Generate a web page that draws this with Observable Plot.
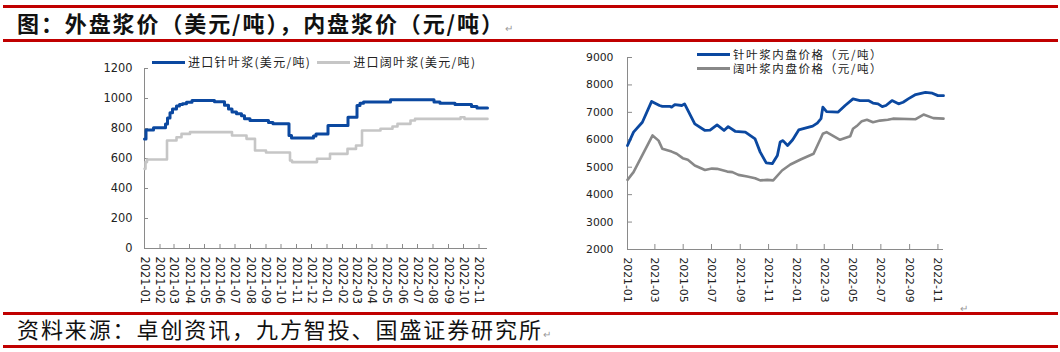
<!DOCTYPE html>
<html><head><meta charset="utf-8">
<script src="https://cdn.jsdelivr.net/npm/d3@7"></script>
<script src="https://cdn.jsdelivr.net/npm/@observablehq/plot@0.6"></script>
<style>
body{margin:0;width:1060px;height:352px;position:relative;background:#fff;overflow:hidden;font-family:"Noto Sans CJK SC",sans-serif}
.rule{position:absolute;left:3px;width:1055px;height:3px;background:#c00000}
.abs{position:absolute;white-space:nowrap}
#title{left:17px;top:7px;line-height:30px;font-size:22px;font-weight:700;letter-spacing:1.9px;color:#111}
#src{left:17px;top:313px;line-height:30px;font-size:22px;letter-spacing:1.9px;color:#111}
.pm{font-size:10px;color:#999;font-weight:400;letter-spacing:0}
.leg{font-size:12px;line-height:12px;height:12px;color:#222;display:flex;align-items:center}
.sw{display:inline-block;width:33px;height:3px;margin-right:3px}
#left,#right{position:absolute;top:46px}
#left{left:0}
#right{left:530px}
</style></head><body>
<div class="rule" style="top:5px"></div>
<div class="rule" style="top:39px"></div>
<div id="title" class="abs">图：外盘浆价（美元/吨），内盘浆价（元/吨）<span class="pm">↵</span></div>
<div id="left"></div>
<div id="right"></div>
<div class="abs leg" style="left:152px;top:56px;letter-spacing:1.3px"><span class="sw" style="background:#0b48a0"></span><span id="l1"></span><span class="sw" style="background:#c6c6c6;margin-left:6px"></span><span id="l2"></span></div>
<div class="abs leg" style="left:697px;top:48px;letter-spacing:1.6px;font-size:11.5px"><span class="sw" style="background:#0b48a0"></span><span id="r1"></span></div>
<div class="abs leg" style="left:697px;top:62px;letter-spacing:1.6px;font-size:11.5px"><span class="sw" style="background:#888888"></span><span id="r2"></span></div>
<div class="abs pm" style="left:960px;top:300px">↵</div>
<div class="rule" style="top:312px"></div>
<div class="rule" style="top:345px"></div>
<div id="src" class="abs">资料来源：卓创资讯，九方智投、国盛证券研究所<span class="pm">↵</span></div>
<script>
// ---------- data ----------
const seriesNames = ["进口针叶浆(美元/吨)", "进口阔叶浆(美元/吨)", "针叶浆内盘价格（元/吨）", "阔叶浆内盘价格（元/吨）"];

// 外盘 进口针叶浆 (USD/t), step changes
const swImpDates = ["2021-01-01","2021-01-04","2021-01-19","2021-02-12","2021-02-16","2021-02-21","2021-02-26","2021-03-06","2021-03-12","2021-03-18","2021-03-26","2021-04-06","2021-05-21","2021-06-10","2021-06-18","2021-06-25","2021-07-04","2021-07-14","2021-07-20","2021-07-31","2021-09-06","2021-09-15","2021-10-17","2021-10-22","2021-12-05","2021-12-10","2022-01-03","2022-02-12","2022-03-02","2022-03-08","2022-03-15","2022-05-08","2022-08-03","2022-08-15","2022-09-14","2022-10-17","2022-10-28","2022-11-18"];
const swImpValues = [730,790,805,830,870,905,930,950,960,965,975,987,978,955,930,910,898,885,865,853,840,831,753,736,750,764,820,875,953,969,976,991,976,969,960,947,936,936];

// 外盘 进口阔叶浆 (USD/t)
const hwImpDates = ["2021-01-01","2021-01-03","2021-01-06","2021-02-15","2021-03-06","2021-03-16","2021-04-02","2021-06-25","2021-07-24","2021-08-10","2021-09-01","2021-10-19","2021-10-23","2021-12-12","2022-01-07","2022-02-11","2022-02-28","2022-03-12","2022-04-18","2022-05-12","2022-05-22","2022-06-17","2022-06-26","2022-09-25","2022-10-03","2022-11-18"];
const hwImpValues = [531,576,593,720,742,764,776,753,731,653,640,587,576,598,631,664,687,787,798,813,831,853,864,875,864,864];

// 内盘 针叶浆 (CNY/t)
const swDomDates = ["2021-01-01","2021-01-14","2021-02-02","2021-02-22","2021-03-11","2021-03-17","2021-04-02","2021-04-06","2021-04-13","2021-04-28","2021-05-04","2021-05-26","2021-06-17","2021-06-28","2021-07-13","2021-07-28","2021-08-06","2021-08-21","2021-09-12","2021-10-03","2021-10-14","2021-10-27","2021-11-09","2021-11-20","2021-11-26","2021-12-02","2021-12-12","2021-12-23","2022-01-05","2022-02-04","2022-02-14","2022-02-22","2022-02-26","2022-03-06","2022-03-31","2022-04-15","2022-05-02","2022-05-17","2022-06-04","2022-06-14","2022-06-25","2022-07-04","2022-07-12","2022-07-25","2022-08-08","2022-08-18","2022-08-29","2022-09-14","2022-10-05","2022-10-20","2022-11-01","2022-11-13"];
const swDomValues = [5790,6280,6640,7400,7250,7220,7220,7190,7280,7250,7310,6580,6340,6350,6540,6340,6480,6310,6280,6030,5550,5160,5130,5430,5920,5970,5790,6000,6360,6500,6610,6770,7190,7030,7010,7250,7490,7430,7430,7340,7310,7210,7250,7430,7310,7370,7490,7650,7730,7700,7610,7610];

// 内盘 阔叶浆 (CNY/t)
const hwDomDates = ["2021-01-01","2021-01-14","2021-02-24","2021-03-09","2021-03-17","2021-04-06","2021-04-17","2021-04-30","2021-05-11","2021-05-26","2021-06-17","2021-07-02","2021-07-13","2021-08-04","2021-08-15","2021-08-28","2021-09-16","2021-10-03","2021-10-14","2021-10-29","2021-11-11","2021-11-30","2021-12-18","2022-01-09","2022-02-06","2022-02-26","2022-03-06","2022-04-04","2022-04-26","2022-05-02","2022-05-10","2022-05-21","2022-06-01","2022-06-14","2022-06-29","2022-07-16","2022-07-27","2022-09-14","2022-10-01","2022-10-22","2022-11-13"];
const hwDomValues = [4540,4820,6160,5970,5670,5570,5490,5330,5270,5060,4900,4950,4940,4840,4820,4720,4660,4600,4520,4540,4520,4880,5100,5280,5490,6220,6280,6000,6130,6400,6500,6680,6730,6640,6700,6730,6770,6750,6920,6790,6770];

// tick labels
const leftXTicks = ["2021-01","2021-02","2021-03","2021-04","2021-05","2021-06","2021-07","2021-08","2021-09","2021-10","2021-11","2021-12","2022-01","2022-02","2022-03","2022-04","2022-05","2022-06","2022-07","2022-08","2022-09","2022-10","2022-11"];
const rightXTicks = ["2021-01","2021-03","2021-05","2021-07","2021-09","2021-11","2022-01","2022-03","2022-05","2022-07","2022-09","2022-11"];
const leftYTicks = [0,200,400,600,800,1000,1200];
const rightYTicks = [2000,3000,4000,5000,6000,7000,8000,9000];

// ---------- build ----------
const pd = s => new Date(s + (s.length === 7 ? "-01" : "") + "T00:00:00Z");
const rows = (ds, vs) => ds.map((d, i) => ({date: pd(d), value: vs[i]}));
const swImp = rows(swImpDates, swImpValues), hwImp = rows(hwImpDates, hwImpValues);
const swDom = rows(swDomDates, swDomValues), hwDom = rows(hwDomDates, hwDomValues);

document.getElementById("l1").textContent = seriesNames[0];
document.getElementById("l2").textContent = seriesNames[1];
document.getElementById("r1").textContent = seriesNames[2];
document.getElementById("r2").textContent = seriesNames[3];

const axisColor = "#8a8a8a";
const plain = d => String(d);

const left = Plot.plot({
  width: 530, height: 266,
  marginLeft: 144, marginRight: 43, marginTop: 22, marginBottom: 64,
  style: {fontFamily: "DejaVu Sans", fontSize: "11.4px", color: "#222", background: "transparent", overflow: "visible"},
  x: {type: "utc", domain: [pd("2021-01-01"), pd(swImpDates[swImpDates.length - 1])]},
  y: {domain: [0, 1200]},
  marks: [
    Plot.axisX({ticks: leftXTicks.map(pd), tickFormat: d3.utcFormat("%Y-%m"), tickRotate: 90, tickSize: -4, tickPadding: 12, stroke: axisColor, label: null}),
    Plot.axisY({ticks: leftYTicks, tickFormat: plain, tickSize: -4, tickPadding: 16, stroke: axisColor, label: null}),
    Plot.ruleY([0], {stroke: axisColor}),
    Plot.ruleX([pd("2021-01-01")], {stroke: axisColor}),
    Plot.line(hwImp, {x: "date", y: "value", curve: "step-after", stroke: "#c6c6c6", strokeWidth: 2.6}),
    Plot.line(swImp, {x: "date", y: "value", curve: "step-after", stroke: "#0b48a0", strokeWidth: 3})
  ]
});
document.getElementById("left").appendChild(left);

const right = Plot.plot({
  width: 450, height: 266,
  marginLeft: 97, marginRight: 37, marginTop: 11, marginBottom: 63,
  style: {fontFamily: "DejaVu Sans", fontSize: "10.8px", color: "#222", background: "transparent", overflow: "visible"},
  x: {type: "utc", domain: [pd("2021-01-01"), pd(swDomDates[swDomDates.length - 1])]},
  y: {domain: [2000, 9000]},
  marks: [
    Plot.axisX({ticks: rightXTicks.map(pd), tickFormat: d3.utcFormat("%Y-%m"), tickRotate: 90, tickSize: -5, tickPadding: 13, stroke: axisColor, label: null}),
    Plot.axisY({ticks: rightYTicks, tickSize: -5, tickPadding: 19, stroke: axisColor, label: null, tickFormat: plain}),
    Plot.ruleY([2000], {stroke: axisColor}),
    Plot.ruleX([pd("2021-01-01")], {stroke: axisColor}),
    Plot.line(hwDom, {x: "date", y: "value", stroke: "#888888", strokeWidth: 2.6}),
    Plot.line(swDom, {x: "date", y: "value", stroke: "#0b48a0", strokeWidth: 2.8})
  ]
});
document.getElementById("right").appendChild(right);
</script>
</body></html>
